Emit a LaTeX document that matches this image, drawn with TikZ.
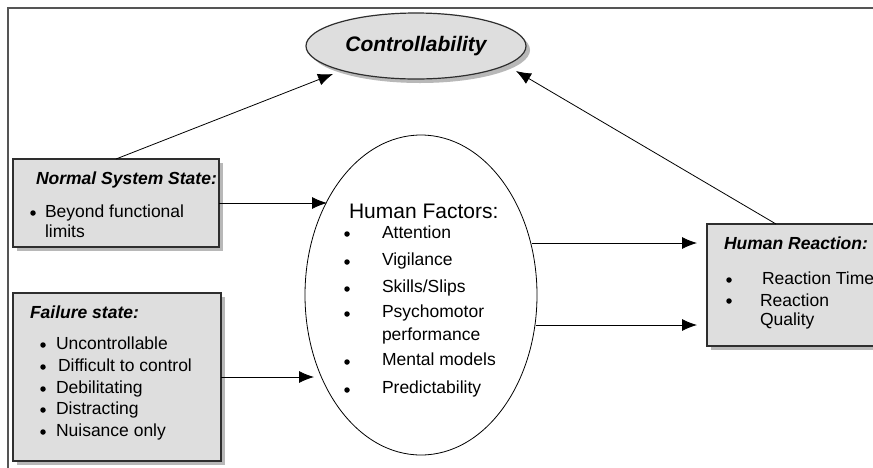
\documentclass[tikz,border=0pt]{standalone}
\usepackage{fontspec}
\setmainfont{Liberation Sans}
\usetikzlibrary{arrows.meta,calc,shapes.geometric,shadows}
\definecolor{boxfill}{HTML}{DEDEDE}
\definecolor{shadowc}{HTML}{B8B8B8}
\definecolor{edgec}{HTML}{2E2E2E}
\definecolor{framec}{HTML}{555555}
\begin{document}
\begin{tikzpicture}[x=1pt,y=-1pt,
  every node/.style={inner sep=0pt, outer sep=0pt},
  box/.style={draw=edgec, line width=1.2pt, fill=boxfill,
    drop shadow={shadow xshift=4pt, shadow yshift=-4pt, fill=shadowc, opacity=1}},
  txt/.style={anchor=base west, font=\fontsize{17.5}{20}\selectfont},
  ttl/.style={anchor=base west, font=\fontsize{17.5}{20}\selectfont\bfseries\itshape},
  bul/.style={circle, fill=black, minimum size=5.5pt, inner sep=0pt},
  arr/.style={draw=black, line width=0.8pt, -{Latex[length=15pt,width=12pt]}},
]
\useasboundingbox (0,0) rectangle (873,467);
\clip (0,0) rectangle (873,467);
\fill[white] (0,0) rectangle (873,467);
% frame
\draw[line width=1.8pt, draw=framec] (8,480) -- (8,8) -- (890,8);

% Controllability
\node[ellipse, draw=edgec, line width=1.2pt, fill=boxfill,
  drop shadow={shadow xshift=4pt, shadow yshift=-4pt, fill=shadowc, opacity=1},
  minimum width=220pt, minimum height=66pt,
  font=\fontsize{21}{24}\selectfont\bfseries\itshape] (ctrl) at (416,46) {Controllability};

% Human factors ellipse
\node[ellipse, draw=black, line width=0.8pt, fill=white,
  minimum width=232pt, minimum height=320pt] (hf) at (421,295) {};

% Normal system state
\node[box, anchor=north west, minimum width=206pt, minimum height=88pt] (nss) at (13,159) {};
\node[ttl] (nsst) at (36,184) {Normal System State:};
\node[bul] (nssb1) at (33,213) {};
\node[txt] (nss1) at (45,217) {Beyond functional};
\node[txt] (nss2) at (45,237) {limits};

% Failure state
\node[box, anchor=north west, minimum width=208pt, minimum height=168pt] (fs) at (13,293) {};
\node[ttl] (fst) at (30,318) {Failure state:};
\node[bul] (fsb1) at (43,345) {};
\node[txt] (fs1) at (56,349) {Uncontrollable};
\node[bul] (fsb2) at (43,367) {};
\node[txt] (fs2) at (58,371) {Difficult to control};
\node[bul] (fsb3) at (43,389) {};
\node[txt] (fs3) at (56,393) {Debilitating};
\node[bul] (fsb4) at (43,410) {};
\node[txt] (fs4) at (56,414) {Distracting};
\node[bul] (fsb5) at (43,432) {};
\node[txt] (fs5) at (56,436) {Nuisance only};

% Human reaction
\node[box, anchor=north west, minimum width=200pt, minimum height=122pt] (hr) at (707,224) {};
\node[ttl] (hrt) at (724,249) {Human Reaction:};
\node[bul] (hrb1) at (729,280) {};
\node[txt] (hr1) at (762,284) {Reaction Time};
\node[bul] (hrb2) at (729,301) {};
\node[txt] (hr2) at (760,306) {Reaction};
\node[txt] (hr3) at (760,325) {Quality};

% Human factors text
\node[anchor=base west, font=\fontsize{21}{24}\selectfont] (hft) at (349,218) {Human Factors:};
\node[bul] (hfb1) at (347,234) {};
\node[txt] (hf1) at (382,238) {Attention};
\node[bul] (hfb2) at (347,262) {};
\node[txt] (hf2) at (382,265) {Vigilance};
\node[bul] (hfb3) at (347,289) {};
\node[txt] (hf3) at (382,292) {Skills/Slips};
\node[bul] (hfb4) at (347,314) {};
\node[txt] (hf4) at (382,317) {Psychomotor};
\node[txt] (hf5) at (382,340) {performance};
\node[bul] (hfb6) at (347,362) {};
\node[txt] (hf6) at (382,365) {Mental models};
\node[bul] (hfb7) at (347,390) {};
\node[txt] (hf7) at (382,393) {Predictability};

% connector end points
\path (ctrl.center) ++(-83,28) coordinate (cl);
\path (ctrl.center) ++(100,25) coordinate (cr);
\coordinate (hfa) at (327,203);
\coordinate (hfb) at (314,377);
\coordinate (hfc) at (532,243);
\coordinate (hfd) at (536,325);

% connectors
\draw[arr] (nss.north) -- (cl);
\draw[arr] ([xshift=69pt]hr.north west) -- (cr);
\draw[arr] (nss.east) -- (hfa);
\draw[arr] (fs.east) -- (hfb);
\draw[arr, shorten >=10pt] (hfc) -- ([yshift=42pt]hr.west);
\draw[arr, shorten >=10pt] (hfd) -- ([yshift=-40pt]hr.west);
\end{tikzpicture}
\end{document}
